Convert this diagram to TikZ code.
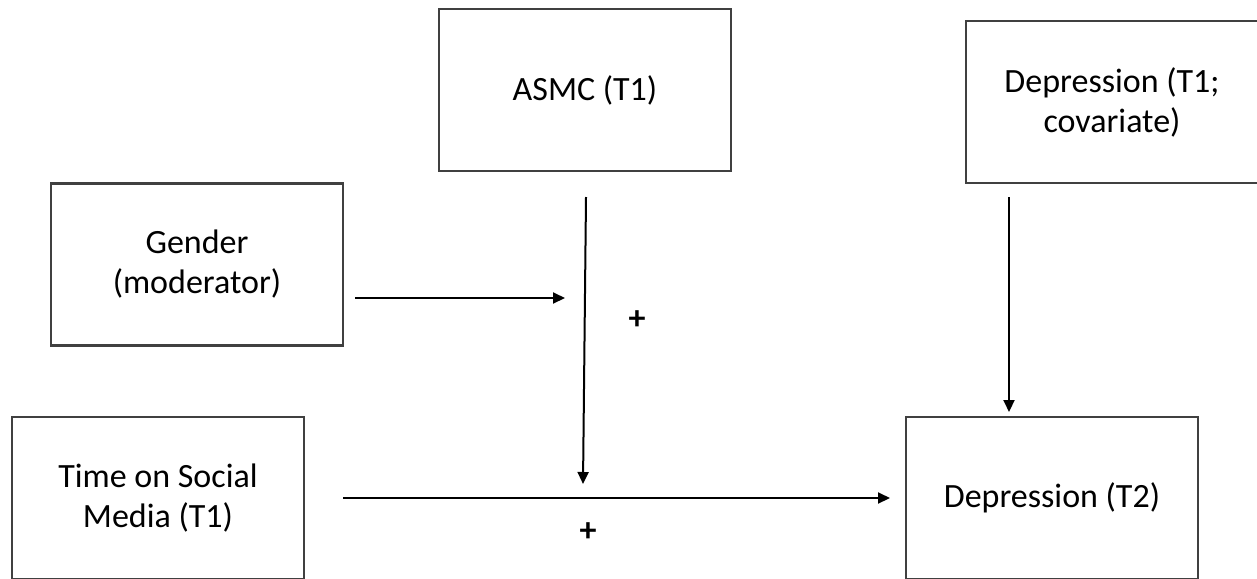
\documentclass[tikz,border=0pt]{standalone}
\usepackage{fontspec}
\setmainfont{Carlito}
\usetikzlibrary{arrows.meta}
\definecolor{boxline}{HTML}{404040}
\tikzset{
  varbox/.style={draw=boxline, line width=1.1pt, minimum width=146pt, minimum height=81pt,
    inner sep=0pt, align=center, font=\fontsize{17pt}{20pt}\selectfont, text=black},
  conn/.style={line width=1pt, draw=black, -{Triangle[length=6pt,width=5.5pt]}},
  sign/.style={font=\fontsize{17pt}{20pt}\selectfont\bfseries, inner sep=0pt}
}
\begin{document}
\begin{tikzpicture}[x=0.5pt,y=-0.5pt]
\useasboundingbox (0,0) rectangle (1257,578);
\node[varbox] (asmc) at (585,90) {ASMC (T1)};
\node[varbox] (dep1) at (1112,102) {Depression (T1;\\covariate)};
\node[varbox] (gender) at (197,264.5) {Gender\\(moderator)};
\node[varbox] (time) at (158,498) {Time on Social\\Media (T1)};
\node[varbox] (dep2) at (1052,498) {Depression (T2)};
\coordinate (g1) at (355,298);
\coordinate (g2) at (565,298);
\coordinate (a1) at (586,197);
\coordinate (a2) at (583,484);
\coordinate (t1) at (343,498);
\coordinate (t2) at (890,498);
\coordinate (d1) at (1009,197);
\coordinate (d2) at (1009,412);
\draw[conn] (g1) -- (g2);
\draw[conn] (a1) -- (a2);
\draw[conn] (t1) -- (t2);
\draw[conn] (d1) -- (d2);
\node[sign] (p1) at (637,320) {+};
\node[sign] (p2) at (588,532) {+};
\end{tikzpicture}
\end{document}
